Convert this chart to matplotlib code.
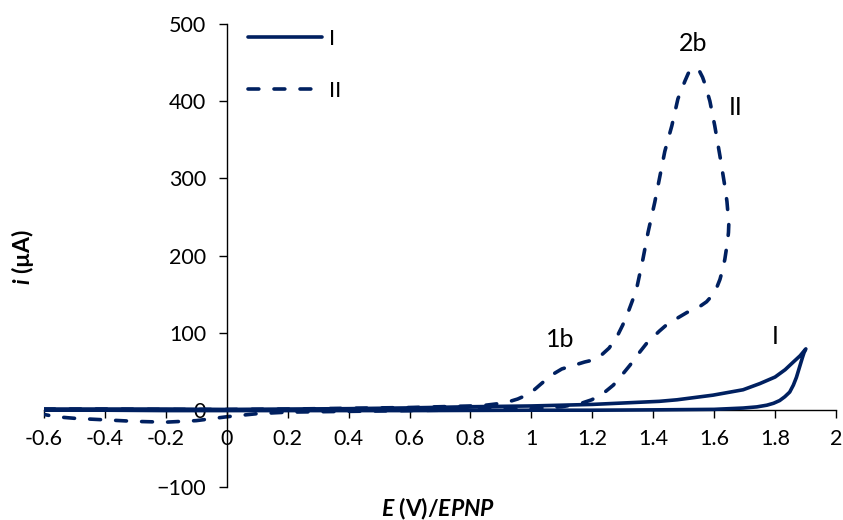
import numpy as np
import matplotlib
matplotlib.use("Agg")
import matplotlib.pyplot as plt
from matplotlib.ticker import FuncFormatter

plt.rcParams['font.family'] = ['Lato', 'DejaVu Sans']
plt.rcParams['mathtext.fontset'] = 'custom'
plt.rcParams['mathtext.rm'] = 'Lato'
plt.rcParams['mathtext.it'] = 'Lato:italic'
plt.rcParams['mathtext.bf'] = 'Lato:bold'
plt.rcParams['mathtext.bfit'] = 'Lato:bold:italic'

# curve I (solid): forward scan then reverse scan
E_I = [-0.6, -0.4, -0.2, 0.0, 0.2, 0.4, 0.6, 0.8, 1.0, 1.2, 1.42, 1.478, 1.596,
       1.695, 1.75, 1.8, 1.833, 1.86, 1.882, 1.901,
       1.895, 1.89, 1.88, 1.87, 1.86, 1.848, 1.832, 1.815, 1.795, 1.773, 1.74,
       1.695, 1.6, 1.42, 1.2, 1.0, 0.6, 0.2, 0.0, -0.2, -0.4, -0.6]
i_I = [1, 1, 1, 0.5, 1, 1.5, 2.5, 4, 5, 7, 11, 13, 19,
       26, 34, 42.5, 52, 62, 70, 79,
       74, 68, 55, 42, 32, 23, 17, 12, 8.5, 6, 3.8,
       2.3, 0.6, 0, -0.5, -0.5, -1, -1, -1, -1, -0.5, -0.5]

# curve II (dashed)
E_II = [-0.6, -0.4, -0.2, 0.0, 0.2, 0.4, 0.6, 0.8, 0.85, 0.913, 0.955, 0.995,
        1.03, 1.066, 1.1, 1.142, 1.175, 1.208, 1.23, 1.255, 1.28, 1.3, 1.318,
        1.335, 1.346, 1.366, 1.383, 1.405, 1.422, 1.438, 1.461, 1.481, 1.504,
        1.515, 1.527, 1.54, 1.553, 1.562, 1.570, 1.586, 1.602, 1.619, 1.635,
        1.642, 1.645, 1.648, 1.647, 1.645, 1.64, 1.635, 1.628, 1.619, 1.607,
        1.593, 1.575, 1.553, 1.53, 1.51, 1.48, 1.455, 1.42, 1.378, 1.35, 1.324,
        1.295, 1.269, 1.235, 1.198, 1.16, 1.1, 1.0, 0.8, 0.4, 0.2, 0.1, 0.0,
        -0.1, -0.2, -0.3, -0.4, -0.5, -0.56, -0.6]
i_II = [1, 1, 0.5, 0.5, 1, 2, 3, 5, 6, 9, 14, 21,
        33, 45, 53, 58, 62, 65, 71, 80, 94, 110, 127,
        145, 158, 195, 230, 269, 303, 335, 368, 403, 426,
        436, 442, 443, 438, 431, 422, 400, 368, 329, 290,
        270, 256, 240, 230, 222, 208, 195, 182, 169, 157,
        148, 140, 134, 130, 126, 119, 114, 102, 86, 72, 58,
        44, 32, 21, 13, 8, 4, 1.5, 0, -2, -3, -5, -9,
        -14, -16, -15, -13, -11, -9, -6]

x_ticks = np.round(np.arange(-0.6, 2.01, 0.2), 1)
y_ticks = [-100, 0, 100, 200, 300, 400, 500]

navy = '#002060'

fig = plt.figure(figsize=(8.43, 5.2), dpi=100)
ax = fig.add_axes([0.0522, 0.0635, 0.9395, 0.8903])

ax.plot(E_II, i_II, color=navy, lw=2.6, linestyle=(0, (3.0, 4.2)),
        dash_capstyle='round', dash_joinstyle='round', label='II', zorder=2)
ax.plot(E_I, i_I, color=navy, lw=2.6, solid_capstyle='round',
        solid_joinstyle='round', label='I', zorder=3)

ax.set_xlim(-0.6, 2.0)
ax.set_ylim(-100, 500)
ax.spines['left'].set_position(('data', 0))
ax.spines['bottom'].set_position(('data', 0))
ax.spines['top'].set_visible(False)
ax.spines['right'].set_visible(False)
for s in ('left', 'bottom'):
    ax.spines[s].set_linewidth(1.0)
    ax.spines[s].set_color('black')

ax.set_xticks(x_ticks)
ax.set_yticks(y_ticks)
ax.xaxis.set_major_formatter(FuncFormatter(lambda v, p: f"{v:g}"))
ax.tick_params(axis='both', direction='out', length=5.5, width=1.0,
               labelsize=15.5, colors='black')
ax.tick_params(axis='x', pad=8.5)
ax.tick_params(axis='y', pad=9.5)

ax.set_xlabel(r"$\mathbfit{E}$ (V)/$\mathbfit{EPNP}$", fontsize=16.5,
              fontweight='bold', va='top')
ax.xaxis.set_label_coords(0.4975, -0.018)
ax.set_ylabel(r"$\mathbfit{i}$ (µA)", fontsize=16.5, fontweight='bold')
ax.yaxis.set_label_coords(-0.010, 0.497)

h, l = ax.get_legend_handles_labels()
ax.legend([h[1], h[0]], [l[1], l[0]], loc='upper left',
          bbox_to_anchor=(0.258, 0.99), frameon=False, fontsize=16,
          borderpad=0, borderaxespad=0, handlelength=3.3,
          handletextpad=0.35, labelspacing=1.45)

ax.text(1.53, 475, "2b", fontsize=18, ha='center', va='center')
ax.text(1.672, 392, "II", fontsize=18, ha='center', va='center')
ax.text(1.094, 91, "1b", fontsize=18, ha='center', va='center')
ax.text(1.80, 95, "I", fontsize=18, ha='center', va='center')

fig.savefig("out.png", dpi=100)
